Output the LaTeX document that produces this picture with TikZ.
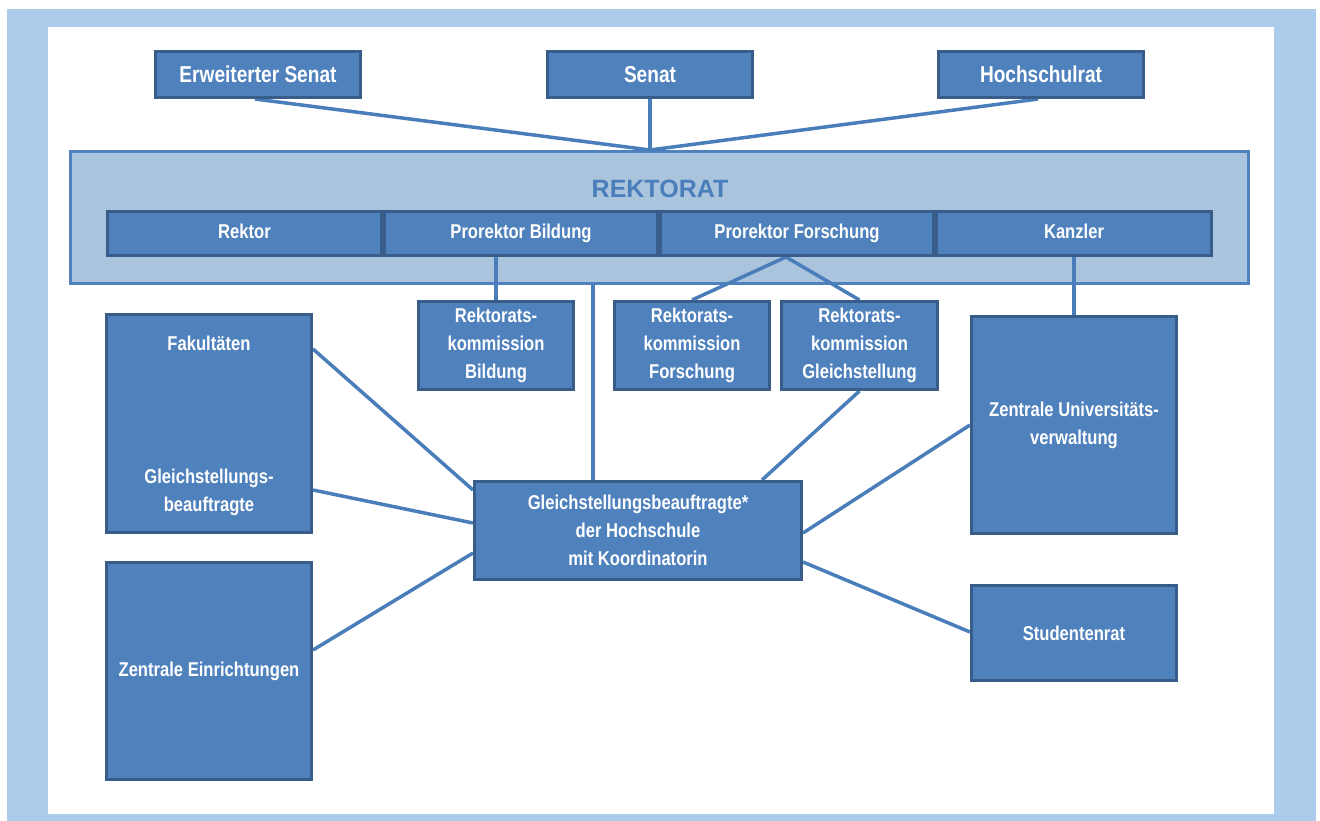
\documentclass[tikz,border=0pt]{standalone}
\usepackage{fontspec}
\setmainfont{Liberation Sans}
\newfontfamily\nb[FakeStretch=0.83]{Liberation Sans}
\definecolor{framec}{HTML}{ABCDEB}
\definecolor{contfill}{HTML}{ABC4DE}
\definecolor{contborder}{HTML}{4F81BD}
\definecolor{boxfill}{HTML}{4F81BD}
\definecolor{boxborder}{HTML}{385D8A}
\definecolor{linec}{HTML}{4A7EBB}
\pgfdeclarelayer{bg}
\pgfdeclarelayer{lines}
\pgfsetlayers{bg,lines,main}
\tikzset{
  orgbox/.style={draw=boxborder, fill=boxfill, line width=3pt, text=white,
    font=\nb\bfseries\fontsize{20}{28}\selectfont, align=center, inner sep=0pt},
  topbox/.style={orgbox, font=\nb\bfseries\fontsize{23}{28}\selectfont},
  inlabel/.style={text=white, font=\nb\bfseries\fontsize{20}{28}\selectfont, align=center, inner sep=0pt},
  conn/.style={draw=linec, line width=3.5pt},
  container/.style={draw=contborder, fill=contfill, line width=3pt, inner sep=0pt}
}
\begin{document}
\begin{tikzpicture}[x=1pt,y=-1pt]
\useasboundingbox (0,0) rectangle (1320,821);
\begin{pgfonlayer}{bg}
  \fill[white] (0,0) rectangle (1320,821);
  \fill[framec] (7,9) rectangle (1316,821);
  \fill[white] (48,27) rectangle (1274,814);
  \node[container, minimum width=1178pt, minimum height=132pt] (rektorat) at (659.5,217.5) {};
  \node[text=linec, font=\bfseries\fontsize{25}{28}\selectfont, inner sep=0pt] (rtitle) at (660,189) {REKTORAT};
\end{pgfonlayer}

% top boxes
\node[topbox, minimum width=205pt, minimum height=46pt] (ersenat) at (258,74.5) {Erweiterter Senat};
\node[topbox, minimum width=205pt, minimum height=46pt] (senat) at (650,74.5) {Senat};
\node[topbox, minimum width=205pt, minimum height=46pt] (hrat) at (1041,74.5) {Hochschulrat};

% rektorat row
\node[orgbox, minimum width=274pt, minimum height=44pt] (rektor) at (244.5,233.5) {Rektor\vphantom{g}};
\node[orgbox, minimum width=273pt, minimum height=44pt] (pb) at (521,233.5) {Prorektor Bildung};
\node[orgbox, minimum width=273pt, minimum height=44pt] (pf) at (797,233.5) {Prorektor Forschung};
\node[orgbox, minimum width=275pt, minimum height=44pt] (kanzler) at (1074,233.5) {Kanzler\vphantom{g}};

% commissions
\node[orgbox, minimum width=155pt, minimum height=88pt] (rkb) at (496,345.5) {Rektorats-\\kommission\\Bildung};
\node[orgbox, minimum width=155pt, minimum height=88pt] (rkf) at (692,345.5) {Rektorats-\\kommission\\Forschung};
\node[orgbox, minimum width=156pt, minimum height=88pt] (rkg) at (859.5,345.5) {Rektorats-\\kommission\\Gleichstellung};

% left boxes
\node[orgbox, minimum width=205pt, minimum height=218pt] (fak) at (209,423.5) {};
\node[inlabel] (faklabel) at (209,343) {Fakult\"aten};
\node[inlabel] (fakgb) at (209,492.5) {Gleichstellungs-\\beauftragte};
\node[orgbox, minimum width=205pt, minimum height=217pt] (ze) at (209,671) {Zentrale Einrichtungen};

% central box
\node[orgbox, minimum width=327pt, minimum height=98pt] (gb) at (638,530.5) {Gleichstellungsbeauftragte*\\der Hochschule\\mit Koordinatorin};

% right boxes
\node[orgbox, minimum width=205pt, minimum height=217pt] (zuv) at (1074,425) {Zentrale Universit\"ats-\\verwaltung};
\node[orgbox, minimum width=205pt, minimum height=95pt] (sr) at (1074,633) {Studentenrat};

% junction coordinates
\coordinate (apex) at (senat.south |- rektorat.north);
\coordinate (pfj) at ([xshift=-11pt]pf.south);
\coordinate (gbtop) at ([xshift=-45pt]gb.north);

\begin{pgfonlayer}{lines}
  \draw[conn] ([xshift=-3pt]ersenat.south) -- (apex);
  \draw[conn] (senat.south) -- (apex);
  \draw[conn] ([xshift=-3pt]hrat.south) -- (apex);
  \draw[conn] (rkb.north) -- (rkb.north |- pb.south);
  \draw[conn] (pfj) -- (rkf.north);
  \draw[conn] (pfj) -- (rkg.north);
  \draw[conn] (gbtop |- rektorat.south) -- (gbtop);
  \draw[conn] (kanzler.south) -- (zuv.north);
  \draw[conn] ([yshift=-36pt]fak.north east) -- ([yshift=-10pt]gb.north west);
  \draw[conn] ([yshift=44pt]fak.south east) -- ([yshift=-43pt]gb.north west);
  \draw[conn] ([yshift=-89pt]ze.north east) -- ([yshift=-73pt]gb.north west);
  \draw[conn] (rkg.south) -- ([xshift=-41pt]gb.north east);
  \draw[conn] ([yshift=-53pt]gb.north east) -- ([yshift=-110pt]zuv.north west);
  \draw[conn] ([yshift=19pt]gb.south east) -- ([yshift=-48pt]sr.north west);
\end{pgfonlayer}
\end{tikzpicture}
\end{document}
